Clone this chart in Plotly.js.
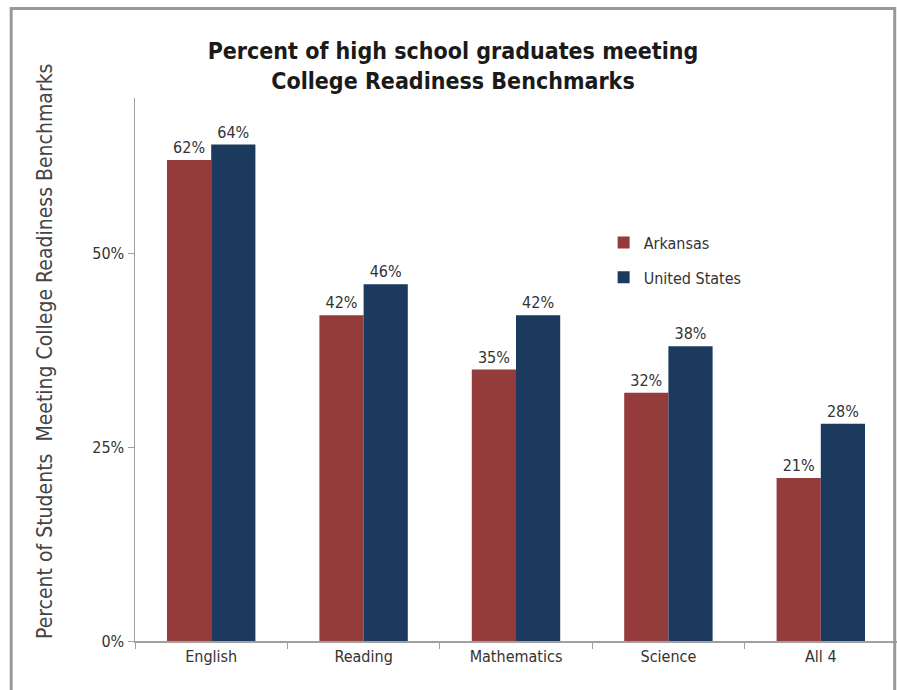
<!DOCTYPE html>
<html>
<head>
<meta charset="utf-8">
<script src="https://cdn.plot.ly/plotly-3.0.1.min.js"></script>
<style>html,body{margin:0;padding:0;background:#fff;}#chart{width:897px;height:690px;}</style>
</head>
<body>
<div id="chart"></div>
<script>
const categories = ["English", "Reading", "Mathematics", "Science", "All 4"];
const arkansas = [62, 42, 35, 32, 21];
const unitedStates = [64, 46, 42, 38, 28];
const yTicks = [0, 25, 50];
const yTickLabels = ["0%", "25%", "50%"];

const FONT = "'DejaVu Sans Condensed', 'Liberation Sans Narrow', 'Liberation Sans', sans-serif";

const traces = [
  {
    type: "bar", name: "Arkansas", x: categories, y: arkansas,
    marker: {color: "#943b3c"},
    texttemplate: "%{y}%", textposition: "outside",
    textfont: {family: FONT, size: 16, color: "#333"},
    cliponaxis: false, legendgroup: "a"
  },
  {
    type: "bar", name: "United States", x: categories, y: unitedStates,
    marker: {color: "#1b3a5e"},
    texttemplate: "%{y}%", textposition: "outside",
    textfont: {family: FONT, size: 16, color: "#333"},
    cliponaxis: false, legendgroup: "b"
  }
];

const layout = {
  width: 897, height: 690,
  margin: {l: 135, r: 0, t: 98, b: 49},
  paper_bgcolor: "#fff", plot_bgcolor: "#fff",
  font: {family: FONT, color: "#333", size: 16},
  title: {
    text: "<b>Percent of high school graduates meeting<br>College Readiness Benchmarks</b>",
    font: {family: FONT, size: 23, color: "#1a1a1a"},
    x: 0.505, xanchor: "center", y: 0.915, yanchor: "top"
  },
  barmode: "group",
  bargap: 0.42,
  bargroupgap: 0,
  showlegend: true,
  legend: {
    x: 0.615, y: 0.765, xanchor: "left", yanchor: "top",
    font: {family: FONT, size: 16, color: "#333"},
    tracegroupgap: 11, bgcolor: "rgba(0,0,0,0)"
  },
  xaxis: {
    showline: true, linecolor: "#a0a0a0", linewidth: 1.5,
    ticks: "outside", tickson: "boundaries", ticklen: 6, tickcolor: "#a0a0a0",
    tickfont: {family: FONT, size: 16, color: "#333"},
    showgrid: false, fixedrange: true
  },
  yaxis: {
    range: [0, 70],
    tickvals: yTicks, ticktext: yTickLabels,
    showline: true, linecolor: "#a0a0a0", linewidth: 1.5,
    ticks: "outside", ticklen: 6, tickcolor: "#a0a0a0",
    tickfont: {family: FONT, size: 16, color: "#333"},
    showgrid: false, zeroline: false,
    fixedrange: true
  },
  annotations: [{
    text: "Percent of Students  Meeting College Readiness Benchmarks",
    xref: "paper", yref: "paper",
    x: (45 - 135) / 762, y: 1 - (352 - 98) / 543,
    xanchor: "center", yanchor: "middle",
    textangle: -90, showarrow: false,
    font: {family: FONT, size: 21, color: "#444"}
  }],
  shapes: [{
    type: "rect", xref: "paper", yref: "paper",
    x0: -0.1625, x1: 0.997, y0: -0.3, y1: 1.165,
    line: {color: "#999", width: 3}, fillcolor: "rgba(0,0,0,0)", layer: "above"
  }]
};

Plotly.newPlot("chart", traces, layout, {displayModeBar: false, staticPlot: true});
</script>
</body>
</html>
